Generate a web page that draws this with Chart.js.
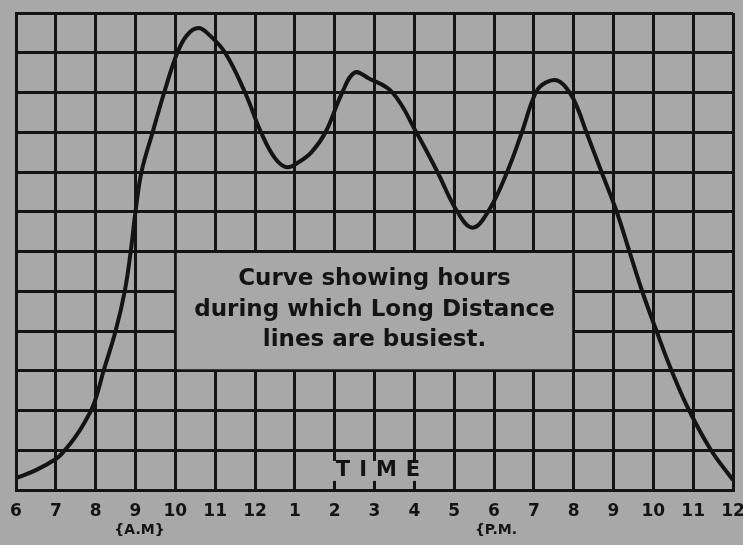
<!DOCTYPE html>
<html>
<head>
<meta charset="utf-8">
<script src="https://cdn.jsdelivr.net/npm/chart.js@4/dist/chart.umd.min.js"></script>
<style>
  html, body { margin: 0; padding: 0; background: #a8a8a8; }
  #grafico { display: block; }
</style>
</head>
<body>
<canvas id="grafico" width="743" height="545"></canvas>
<script>
// horas desde as 6 da manhã (0 = 6 AM, 18 = meia-noite)
const horas = [0, 0.5, 1.0, 1.2, 1.5, 1.75, 1.95, 2.2, 2.5, 2.73,
  2.88, 3.0, 3.15, 3.43, 3.72, 4.05, 4.3, 4.58, 4.85, 5.25,
  5.75, 6.15, 6.5, 6.8, 7.1, 7.42, 7.77, 8.19, 8.5, 8.85,
  9.45, 10.05, 10.58, 11.08, 11.46, 11.85, 12.33, 12.7, 13.05, 13.3,
  13.6, 13.9, 14.1, 14.32, 14.7, 15.08, 15.4, 15.72, 16.08, 16.46,
  16.9, 17.45, 18];
const trafego = [0.3, 0.5, 0.78, 0.97, 1.35, 1.75, 2.15, 3.0, 4.0, 5.0,
  6.0, 7.0, 8.0, 9.0, 10.0, 11.0, 11.45, 11.62, 11.45, 11.0,
  10.0, 9.0, 8.35, 8.12, 8.25, 8.5, 9.0, 10.0, 10.5, 10.36,
  10.0, 9.0, 8.0, 7.0, 6.6, 7.0, 8.0, 9.0, 10.0, 10.25,
  10.3, 10.0, 9.6, 9.0, 8.0, 7.0, 6.0, 5.0, 4.0, 3.0,
  2.0, 1.0, 0.25];
const rotulosHora = ['6', '7', '8', '9', '10', '11', '12', '1', '2', '3',
  '4', '5', '6', '7', '8', '9', '10', '11', '12'];
const textoQuadro = ['Curve showing hours', 'during which Long Distance', 'lines are busiest.'];
const tituloEixo = 'TIME';
const periodos = [{ texto: '{A.M}', hora: 3.1 }, { texto: '{P.M.', hora: 12.05 }];

const papel = '#a8a8a8';
const tinta = '#141414';

const papelPlugin = {
  id: 'papel',
  beforeDraw(chart) {
    const ctx = chart.ctx;
    ctx.save();
    ctx.fillStyle = papel;
    ctx.fillRect(0, 0, chart.width, chart.height);
    ctx.restore();
  },
  beforeDatasetsDraw(chart) {
    const ctx = chart.ctx;
    const x = chart.scales.x, y = chart.scales.y;
    ctx.save();
    ctx.fillStyle = papel;
    // quadro em branco para o texto
    const x0 = x.getPixelForValue(4) + 1.5, x1 = x.getPixelForValue(14) - 1.5;
    const y0 = y.getPixelForValue(6) + 1.5, y1 = y.getPixelForValue(3) - 1.5;
    ctx.fillRect(x0, y0, x1 - x0, y1 - y0);
    // fundo atrás de TIME
    const cx = x.getPixelForValue(9), cy = y.getPixelForValue(0.48);
    ctx.fillRect(cx - 42, cy - 10, 88, 20);
    ctx.restore();
  },
  afterDatasetsDraw(chart) {
    const ctx = chart.ctx;
    const x = chart.scales.x, y = chart.scales.y;
    ctx.save();
    ctx.fillStyle = tinta;
    ctx.textAlign = 'center';
    ctx.textBaseline = 'middle';
    ctx.font = 'bold 23px "DejaVu Sans"';
    const cx = x.getPixelForValue(9);
    const linhasY = [5.3, 4.53, 3.77];
    textoQuadro.forEach((t, i) => ctx.fillText(t, cx, y.getPixelForValue(linhasY[i])));
    ctx.font = 'bold 21px "DejaVu Sans"';
    ctx.letterSpacing = '9px';
    ctx.fillText(tituloEixo, cx + 8, y.getPixelForValue(0.48));
    ctx.restore();
  },
  afterDraw(chart) {
    const ctx = chart.ctx;
    const x = chart.scales.x;
    ctx.save();
    ctx.fillStyle = tinta;
    ctx.textAlign = 'center';
    ctx.textBaseline = 'middle';
    ctx.font = 'bold 14px "DejaVu Sans"';
    periodos.forEach(p => ctx.fillText(p.texto, x.getPixelForValue(p.hora), chart.chartArea.bottom + 40));
    ctx.restore();
  }
};

new Chart(document.getElementById('grafico'), {
  type: 'line',
  data: {
    datasets: [{
      data: horas.map((h, i) => ({ x: h, y: trafego[i] })),
      borderColor: tinta,
      borderWidth: 4,
      borderJoinStyle: 'round',
      pointRadius: 0,
      fill: false,
      tension: 0.4
    }]
  },
  options: {
    responsive: false,
    animation: false,
    devicePixelRatio: 1,
    layout: { padding: { left: 16, right: 10, top: 13, bottom: 0 } },
    plugins: { legend: { display: false }, tooltip: { enabled: false } },
    scales: {
      x: {
        type: 'linear',
        min: 0,
        max: 18,
        afterFit: s => { s.height = 55; s.paddingLeft = 0; s.paddingRight = 0; },
        grid: { color: tinta, lineWidth: 3, drawTicks: false },
        border: { color: tinta, width: 3 },
        ticks: {
          stepSize: 1,
          autoSkip: false,
          maxRotation: 0,
          padding: 11,
          color: tinta,
          font: { family: 'DejaVu Sans', size: 17, weight: 'bold' },
          callback: v => rotulosHora[v]
        }
      },
      y: {
        min: 0,
        max: 12,
        afterFit: s => { s.width = 0; },
        grid: { color: tinta, lineWidth: 3, drawTicks: false },
        border: { color: tinta, width: 3 },
        ticks: { stepSize: 1, display: false }
      }
    }
  },
  plugins: [papelPlugin]
});
</script>
</body>
</html>
